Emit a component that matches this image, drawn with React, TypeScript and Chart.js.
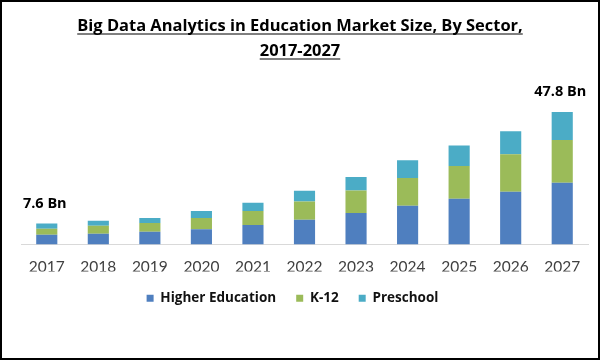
import React, { useEffect, useRef } from "react";
import { Chart, registerables } from "chart.js";

Chart.register(...registerables);

const titleLines = ["Big Data Analytics in Education Market Size, By Sector,", "2017-2027"];
const years = ["2017", "2018", "2019", "2020", "2021", "2022", "2023", "2024", "2025", "2026", "2027"];
const higherEducation = [3.5, 3.9, 4.6, 5.5, 7.0, 8.9, 11.4, 14.0, 16.5, 19.0, 22.3];
const k12 = [2.2, 2.9, 3.2, 4.1, 5.1, 6.6, 8.1, 10.0, 11.8, 13.6, 15.4];
const preschool = [1.9, 1.8, 1.8, 2.5, 3.0, 3.9, 4.9, 6.4, 7.4, 8.3, 10.1];
const labelledIndices = [0, 10];
const unitSuffix = " Bn";

const BOLD_FONT = "'Open Sans', sans-serif";
const TICK_FONT = "Lato, sans-serif";

const titlePlugin = {
  id: "underlinedTitle",
  afterDraw(chart: any) {
    const ctx = chart.ctx;
    ctx.save();
    ctx.font = `bold 100px ${BOLD_FONT}`;
    const w100 = ctx.measureText(titleLines[0]).width;
    const size = (100 * 446) / w100;
    ctx.font = `bold ${size.toFixed(2)}px ${BOLD_FONT}`;
    ctx.fillStyle = "#000";
    ctx.strokeStyle = "#000";
    ctx.lineWidth = 1;
    ctx.textAlign = "center";
    ctx.textBaseline = "alphabetic";
    const cx = 300;
    const baselines = [31, 56];
    titleLines.forEach((line, i) => {
      const y = baselines[i];
      ctx.fillText(line, cx, y);
      const w = ctx.measureText(line).width;
      ctx.beginPath();
      ctx.moveTo(cx - w / 2, y + 3);
      ctx.lineTo(cx + w / 2, y + 3);
      ctx.stroke();
    });
    ctx.restore();
  },
};

const legendShiftPlugin = {
  id: "legendShift",
  afterLayout(chart: any) {
    if (chart.legend) {
      chart.legend.left = chart.legend.left - 24;
    }
  },
};

const totalLabelPlugin = {
  id: "totalLabels",
  afterDatasetsDraw(chart: any) {
    const ctx = chart.ctx;
    const lastMeta = chart.getDatasetMeta(chart.data.datasets.length - 1);
    ctx.save();
    ctx.font = `bold 14.5px ${BOLD_FONT}`;
    ctx.fillStyle = "#000";
    ctx.textAlign = "center";
    ctx.textBaseline = "middle";
    labelledIndices.forEach((i) => {
      const el = lastMeta.data[i];
      const total = higherEducation[i] + k12[i] + preschool[i];
      ctx.fillText(total.toFixed(1) + unitSuffix, el.x - 2, el.y - 20);
    });
    ctx.restore();
  },
};

export default function App() {
  const ref = useRef<HTMLCanvasElement>(null);
  useEffect(() => {
    if (!ref.current) return;
    const chart = new Chart(ref.current, {
      type: "bar",
      data: {
        labels: years,
        datasets: [
          { label: "Higher Education", data: higherEducation, backgroundColor: "#4F7FBF" },
          { label: "K-12", data: k12, backgroundColor: "#9BBB59" },
          { label: "Preschool", data: preschool, backgroundColor: "#4BACC6" },
        ],
      },
      options: {
        animation: false,
        responsive: false,
        maintainAspectRatio: false,
        layout: { padding: { top: 106, left: 21, right: 12, bottom: 45 } },
        datasets: { bar: { barPercentage: 0.41, categoryPercentage: 1 } },
        scales: {
          x: {
            stacked: true,
            grid: { display: false },
            border: { color: "#d9d9d9", width: 1 },
            ticks: { color: "#404040", font: { family: TICK_FONT, size: 15.5 }, padding: 5 },
            afterFit: (axis: any) => {
              axis.height = 27;
            },
          },
          y: {
            stacked: true,
            display: false,
            min: 0,
            max: 50,
          },
        },
        plugins: {
          legend: {
            position: "bottom",
            labels: {
              boxWidth: 7,
              boxHeight: 7,
              padding: 20,
              color: "#111",
              font: { family: BOLD_FONT, size: 13.5, weight: "bold" },
            },
          },
          title: { display: false },
          tooltip: { enabled: false },
        },
      },
      plugins: [titlePlugin, totalLabelPlugin, legendShiftPlugin],
    });
    return () => chart.destroy();
  }, []);
  return (
    <div style={{ position: "fixed", left: 0, top: 0, width: 600, height: 360, background: "#fff" }}>
      <canvas ref={ref} width={600} height={360} style={{ position: "absolute", left: 0, top: 0, width: 600, height: 360 }} />
      <div
        style={{
          position: "absolute",
          left: 0,
          top: 0,
          width: 600,
          height: 360,
          boxSizing: "border-box",
          border: "2px solid #000",
          pointerEvents: "none",
        }}
      />
    </div>
  );
}
